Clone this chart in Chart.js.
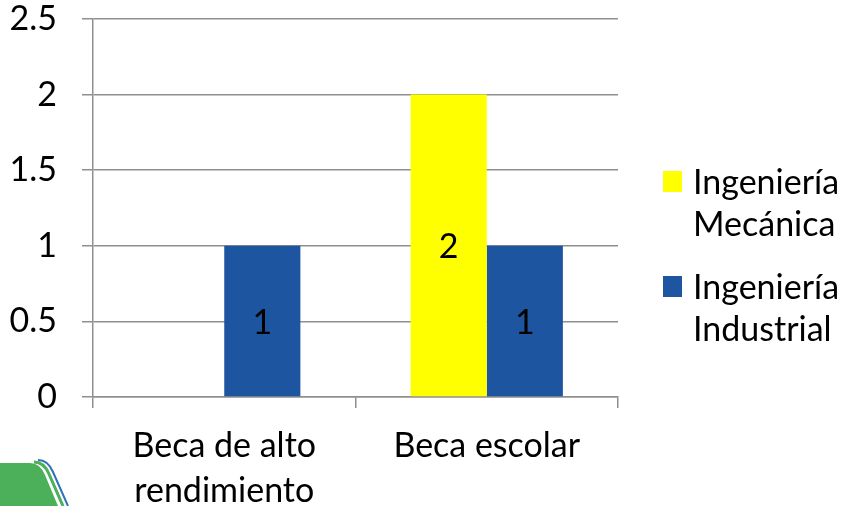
<!DOCTYPE html>
<html>
<head>
<meta charset="utf-8">
<script src="https://cdn.jsdelivr.net/npm/chart.js@4.4.0/dist/chart.umd.min.js"></script>
<style>
  body { margin: 0; background: #fff; }
</style>
</head>
<body>
<canvas id="chart" width="848" height="506"></canvas>
<script>
// data
var categories = [['Beca de alto', 'rendimiento'], 'Beca escolar'];
var mecanica = [0, 2];
var industrial = [1, 1];
var seriesNames = [['Ingeniería', 'Mecánica'], ['Ingeniería', 'Industrial']];
var seriesColors = ['#FFFF00', '#1D55A0'];

var FONT = 'Lato';
var SIZE = 34;
var gridColor = '#8f8f8f';

// numbers inside the bars
var barLabels = {
  id: 'barLabels',
  afterDatasetsDraw: function(chart) {
    var ctx = chart.ctx;
    ctx.save();
    ctx.font = SIZE + 'px ' + FONT;
    ctx.fillStyle = '#000';
    ctx.textAlign = 'center';
    ctx.textBaseline = 'middle';
    chart.data.datasets.forEach(function(ds, i) {
      chart.getDatasetMeta(i).data.forEach(function(bar, j) {
        if (!ds.data[j]) return;
        ctx.fillText(String(ds.data[j]), bar.x, (bar.y + bar.base) / 2 + 2);
      });
    });
    ctx.restore();
  }
};

// legend with wrapped names on the right
var sideLegend = {
  id: 'sideLegend',
  afterDraw: function(chart) {
    var ctx = chart.ctx;
    ctx.save();
    ctx.font = SIZE + 'px ' + FONT;
    ctx.textBaseline = 'middle';
    var x = 663, y = 181;
    chart.data.datasets.forEach(function(ds) {
      ctx.fillStyle = ds.backgroundColor;
      ctx.fillRect(x, y - 10, 19, 21);
      ctx.fillStyle = '#000';
      ds.label.forEach(function(line, k) {
        ctx.fillText(line, x + 30, y + 2 + k * 42);
      });
      y += 105;
    });
    ctx.restore();
  }
};

// little logo corner at bottom left
var logo = {
  id: 'logo',
  beforeDraw: function(chart) {
    var ctx = chart.ctx;
    ctx.save();
    ctx.fillStyle = '#4CAF5A';
    ctx.beginPath();
    ctx.moveTo(0, 463);
    ctx.lineTo(30, 463);
    ctx.quadraticCurveTo(40, 463, 45, 475);
    ctx.lineTo(58, 506);
    ctx.lineTo(0, 506);
    ctx.closePath();
    ctx.fill();
    ctx.lineWidth = 3;
    ctx.strokeStyle = '#4CAF5A';
    ctx.beginPath();
    ctx.moveTo(34, 462);
    ctx.quadraticCurveTo(44, 462, 49, 474);
    ctx.lineTo(63, 506);
    ctx.stroke();
    ctx.lineWidth = 2;
    ctx.strokeStyle = '#2F74B5';
    ctx.beginPath();
    ctx.moveTo(38, 460);
    ctx.quadraticCurveTo(48, 460, 53, 472);
    ctx.lineTo(68, 506);
    ctx.stroke();
    ctx.restore();
  }
};

new Chart(document.getElementById('chart'), {
  type: 'bar',
  data: {
    labels: categories,
    datasets: [
      { label: seriesNames[0], data: mecanica, backgroundColor: seriesColors[0] },
      { label: seriesNames[1], data: industrial, backgroundColor: seriesColors[1] }
    ]
  },
  options: {
    responsive: false,
    animation: false,
    categoryPercentage: 0.58,
    barPercentage: 1,
    layout: { padding: { top: 19, right: 230, left: 0, bottom: 0 } },
    plugins: { legend: { display: false }, tooltip: { enabled: false } },
    scales: {
      x: {
        grid: { offset: true, drawOnChartArea: false, tickLength: 11, color: gridColor, lineWidth: 1.5 },
        border: { display: true, color: gridColor, width: 1.5 },
        ticks: { color: '#000', padding: 16, maxRotation: 0, font: { family: FONT, size: SIZE, lineHeight: 1.32 } },
        afterFit: function(s) { s.height = 109; }
      },
      y: {
        min: 0, max: 2.5,
        grid: { tickLength: 11, color: gridColor, lineWidth: 1.5 },
        border: { display: true, color: gridColor, width: 1.5 },
        ticks: {
          stepSize: 0.5, color: '#000', padding: 25, font: { family: FONT, size: SIZE },
          callback: function(v) { return String(v); }
        },
        afterFit: function(s) { s.width = 93; s.paddingTop = 18; s.paddingBottom = 18; }
      }
    }
  },
  plugins: [barLabels, sideLegend, logo]
});
</script>
</body>
</html>
